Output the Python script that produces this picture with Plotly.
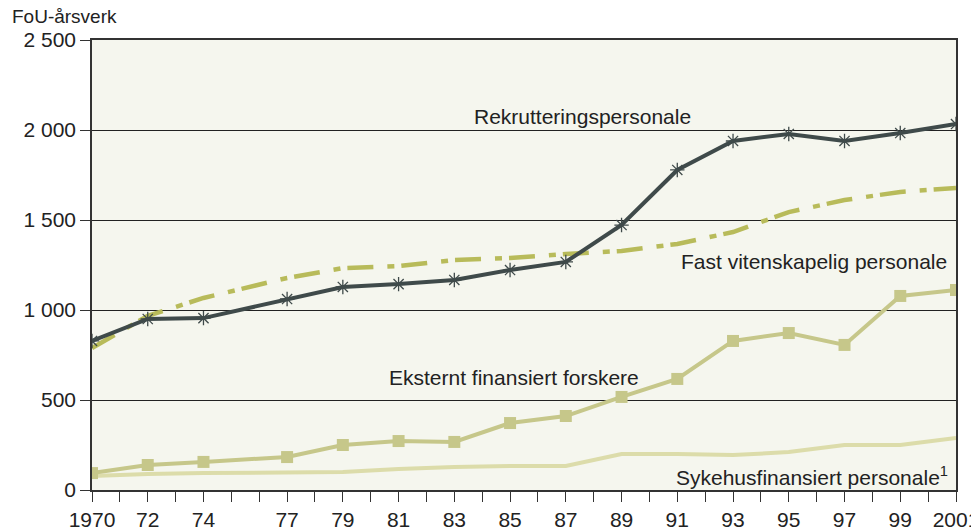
import plotly.graph_objects as go

years = [1970, 1972, 1974, 1977, 1979, 1981, 1983, 1985, 1987, 1989, 1991, 1993, 1995, 1997, 1999, 2001]
rekruttering = [828, 950, 955, 1061, 1128, 1144, 1167, 1222, 1267, 1472, 1778, 1939, 1978, 1939, 1983, 2033]
fast_vit = [789, 967, 1067, 1178, 1233, 1244, 1278, 1289, 1311, 1328, 1367, 1433, 1544, 1611, 1656, 1678]
eksternt = [94, 139, 156, 183, 250, 272, 267, 372, 411, 517, 617, 828, 872, 806, 1078, 1111]
sykehus = [78, 89, 94, 100, 100, 117, 128, 133, 133, 200, 200, 194, 211, 250, 250, 289]

x_labels = {1970: "1970", 1972: "72", 1974: "74", 1977: "77", 1979: "79", 1981: "81",
            1983: "83", 1985: "85", 1987: "87", 1989: "89", 1991: "91", 1993: "93",
            1995: "95", 1997: "97", 1999: "99", 2001: "2001"}
y_ticks = [0, 500, 1000, 1500, 2000, 2500]
y_labels = ["0", "500", "1 000", "1 500", "2 000", "2 500"]

FONT = "Liberation Sans, Arial, sans-serif"

fig = go.Figure()

fig.add_trace(go.Scatter(
    x=years, y=sykehus, mode="lines",
    line=dict(color="#dcdcaa", width=4), hoverinfo="skip"))

fig.add_trace(go.Scatter(
    x=years, y=eksternt, mode="lines+markers",
    line=dict(color="#c6c78a", width=4),
    marker=dict(symbol="square", size=12, color="#c6c78a"), hoverinfo="skip"))

fig.add_trace(go.Scatter(
    x=years, y=fast_vit, mode="lines",
    line=dict(color="#b8bb5a", width=4.5, dash="26px,14px,7px,7px"), hoverinfo="skip"))

fig.add_trace(go.Scatter(
    x=years, y=rekruttering, mode="lines+markers",
    line=dict(color="#3f4a4a", width=4),
    marker=dict(symbol="asterisk-open", size=12, color="#3f4a4a",
                line=dict(color="#3f4a4a", width=1.3)), hoverinfo="skip"))

labels = [
    ("Rekrutteringspersonale", 1987.6, 2075, "center"),
    ("Fast vitenskapelig personale", 1995.9, 1270, "center"),
    ("Eksternt finansiert forskere", 1985.15, 625, "center"),
    ("Sykehusfinansiert personale<sup>1</sup>", 2000.8, 80, "right"),
]
for text, x, y, anchor in labels:
    fig.add_annotation(x=x, y=y, text=text, showarrow=False, xanchor=anchor,
                       font=dict(size=21, color="#222222", family=FONT))

fig.add_annotation(xref="paper", yref="paper", x=-0.095, y=1.025, text="FoU-årsverk",
                   showarrow=False, xanchor="left", yanchor="bottom",
                   font=dict(size=19, color="#222222", family=FONT))

all_years = list(range(1970, 2002))
fig.update_xaxes(
    range=[1970, 2001], tickmode="array", tickvals=all_years,
    ticktext=[x_labels.get(y, "") for y in all_years],
    ticks="outside", ticklen=10, tickcolor="#333333", tickwidth=1,
    showline=True, linecolor="#333333", linewidth=1.5, mirror=True,
    showgrid=False, zeroline=False, automargin=False,
    tickfont=dict(size=21, color="#222222", family=FONT))
fig.update_yaxes(
    range=[0, 2500], tickmode="array", tickvals=y_ticks, ticktext=y_labels,
    ticks="outside", ticklen=10, tickcolor="#333333",
    showline=True, linecolor="#333333", linewidth=1.5, mirror=True,
    showgrid=True, gridcolor="#222222", gridwidth=1, zeroline=False, automargin=False,
    tickfont=dict(size=21, color="#222222", family=FONT))

# the page body adds an 8px offset, so the margins are shifted to match the reference frame
fig.update_layout(
    width=979, height=530,
    margin=dict(l=84, r=31, t=32, b=48),
    paper_bgcolor="white", plot_bgcolor="#f5f6ee",
    showlegend=False,
    font=dict(family=FONT))

fig.write_html("out.html")
